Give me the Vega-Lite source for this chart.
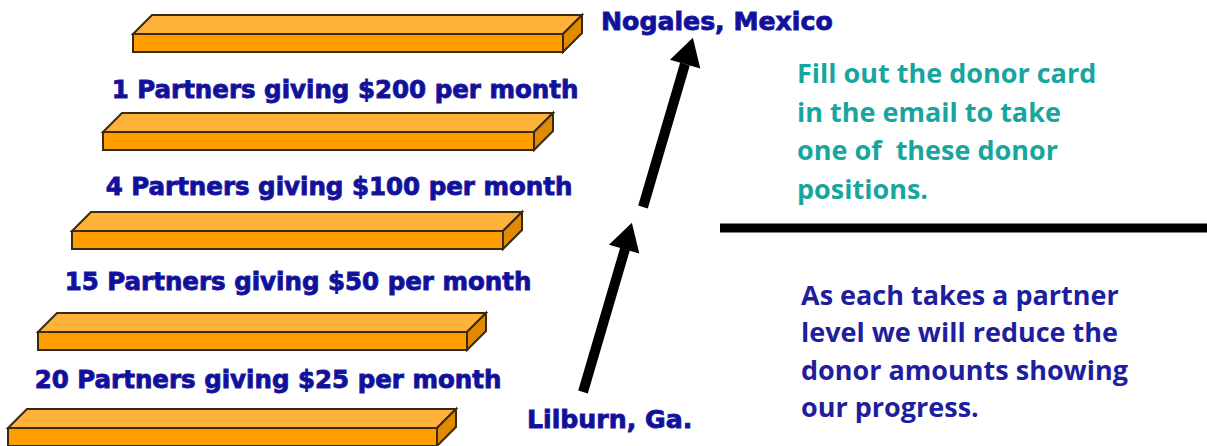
{
  "$schema": "https://vega.github.io/schema/vega-lite/v6.json",
  "width": 1207,
  "height": 446,
  "padding": 0,
  "autosize": "none",
  "background": "white",
  "config": {"view": {"stroke": null}},
  "datasets": {
    "tops": [
      {"bar": 1, "y": 34, "xl": 133, "xr": 563}, {"bar": 1, "y": 15, "xl": 152, "xr": 582},
      {"bar": 2, "y": 132, "xl": 103, "xr": 534}, {"bar": 2, "y": 113, "xl": 122, "xr": 553},
      {"bar": 3, "y": 231, "xl": 72, "xr": 503}, {"bar": 3, "y": 212, "xl": 91, "xr": 522},
      {"bar": 4, "y": 332, "xl": 38, "xr": 467}, {"bar": 4, "y": 313, "xl": 57, "xr": 486},
      {"bar": 5, "y": 428, "xl": 8, "xr": 437}, {"bar": 5, "y": 409, "xl": 27, "xr": 456}
    ],
    "sides": [
      {"bar": 1, "x": 563, "yt": 34, "yb": 52}, {"bar": 1, "x": 582, "yt": 15, "yb": 33},
      {"bar": 2, "x": 534, "yt": 132, "yb": 150}, {"bar": 2, "x": 553, "yt": 113, "yb": 131},
      {"bar": 3, "x": 503, "yt": 231, "yb": 249}, {"bar": 3, "x": 522, "yt": 212, "yb": 230},
      {"bar": 4, "x": 467, "yt": 332, "yb": 350}, {"bar": 4, "x": 486, "yt": 313, "yb": 331},
      {"bar": 5, "x": 437, "yt": 428, "yb": 446}, {"bar": 5, "x": 456, "yt": 409, "yb": 427}
    ],
    "fronts": [
      {"bar": 1, "x0": 133, "x1": 563, "yt": 34, "yb": 52},
      {"bar": 2, "x0": 103, "x1": 534, "yt": 132, "yb": 150},
      {"bar": 3, "x0": 72, "x1": 503, "yt": 231, "yb": 249},
      {"bar": 4, "x0": 38, "x1": 467, "yt": 332, "yb": 350},
      {"bar": 5, "x0": 8, "x1": 437, "yt": 428, "yb": 446}
    ],
    "labels": [
      {"t": "1 Partners giving $200 per month", "x": 345, "y": 98},
      {"t": "4 Partners giving $100 per month", "x": 339, "y": 195},
      {"t": "15 Partners giving $50 per month", "x": 298, "y": 290},
      {"t": "20 Partners giving $25 per month", "x": 268, "y": 388}
    ],
    "cities": [
      {"t": "Nogales, Mexico", "x": 601, "y": 30},
      {"t": "Lilburn, Ga.", "x": 527, "y": 428}
    ],
    "teal": [
      {"t": "Fill out the donor card", "x": 797, "y": 83},
      {"t": "in the email to take", "x": 797, "y": 122},
      {"t": "one of\u00a0 these donor", "x": 797, "y": 160},
      {"t": "positions.", "x": 797, "y": 199}
    ],
    "blue": [
      {"t": "As each takes a partner", "x": 801, "y": 305},
      {"t": "level we will reduce the", "x": 801, "y": 342},
      {"t": "donor amounts showing", "x": 801, "y": 380},
      {"t": "our progress.", "x": 801, "y": 417}
    ],
    "shafts": [
      {"arrow": "upper", "x": 643, "y": 207, "x2": 685, "y2": 64},
      {"arrow": "lower", "x": 583, "y": 392, "x2": 625, "y2": 249}
    ],
    "heads": [
      {"arrow": "upper", "x": 689, "y": 51},
      {"arrow": "lower", "x": 628, "y": 236}
    ],
    "divider": [
      {"x": 720, "x2": 1207, "y": 228}
    ]
  },
  "layer": [
    {
      "data": {"name": "tops"},
      "mark": {"type": "area", "orient": "horizontal", "color": "#FFB23A", "stroke": "#3b2a12", "strokeWidth": 2, "strokeJoin": "miter", "opacity": 1},
      "encoding": {
        "y": {"field": "y", "type": "quantitative", "scale": {"domain": [0, 446], "reverse": true, "nice": false, "zero": false}, "axis": null},
        "x": {"field": "xl", "type": "quantitative", "scale": {"domain": [0, 1207], "nice": false, "zero": false}, "axis": null, "stack": null},
        "x2": {"field": "xr"},
        "detail": {"field": "bar", "type": "nominal"}
      }
    },
    {
      "data": {"name": "sides"},
      "mark": {"type": "area", "orient": "vertical", "color": "#E08A00", "stroke": "#3b2a12", "strokeWidth": 2, "strokeJoin": "miter", "opacity": 1},
      "encoding": {
        "x": {"field": "x", "type": "quantitative", "scale": {"domain": [0, 1207], "nice": false, "zero": false}, "axis": null},
        "y": {"field": "yt", "type": "quantitative", "scale": {"domain": [0, 446], "reverse": true, "nice": false, "zero": false}, "axis": null, "stack": null},
        "y2": {"field": "yb"},
        "detail": {"field": "bar", "type": "nominal"}
      }
    },
    {
      "data": {"name": "fronts"},
      "mark": {"type": "rect", "color": "#FF9C00", "stroke": "#3b2a12", "strokeWidth": 2},
      "encoding": {
        "x": {"field": "x0", "type": "quantitative", "scale": {"domain": [0, 1207], "nice": false, "zero": false}, "axis": null},
        "x2": {"field": "x1"},
        "y": {"field": "yt", "type": "quantitative", "scale": {"domain": [0, 446], "reverse": true, "nice": false, "zero": false}, "axis": null},
        "y2": {"field": "yb"}
      }
    },
    {
      "data": {"name": "labels"},
      "mark": {"type": "text", "font": "DejaVu Sans", "fontWeight": "bold", "fontSize": 24.5, "color": "#10109a", "stroke": "#1a1aa0", "strokeWidth": 0.9, "align": "center", "baseline": "alphabetic"},
      "encoding": {
        "x": {"field": "x", "type": "quantitative", "scale": {"domain": [0, 1207], "nice": false, "zero": false}, "axis": null},
        "y": {"field": "y", "type": "quantitative", "scale": {"domain": [0, 446], "reverse": true, "nice": false, "zero": false}, "axis": null},
        "text": {"field": "t", "type": "nominal"}
      }
    },
    {
      "data": {"name": "cities"},
      "mark": {"type": "text", "font": "DejaVu Sans", "fontWeight": "bold", "fontSize": 25.2, "color": "#10109a", "stroke": "#1a1aa0", "strokeWidth": 0.9, "align": "left", "baseline": "alphabetic"},
      "encoding": {
        "x": {"field": "x", "type": "quantitative", "scale": {"domain": [0, 1207], "nice": false, "zero": false}, "axis": null},
        "y": {"field": "y", "type": "quantitative", "scale": {"domain": [0, 446], "reverse": true, "nice": false, "zero": false}, "axis": null},
        "text": {"field": "t", "type": "nominal"}
      }
    },
    {
      "data": {"name": "teal"},
      "mark": {"type": "text", "font": "Open Sans", "fontWeight": "bold", "fontSize": 27, "color": "#17a59e", "align": "left", "baseline": "alphabetic"},
      "encoding": {
        "x": {"field": "x", "type": "quantitative", "scale": {"domain": [0, 1207], "nice": false, "zero": false}, "axis": null},
        "y": {"field": "y", "type": "quantitative", "scale": {"domain": [0, 446], "reverse": true, "nice": false, "zero": false}, "axis": null},
        "text": {"field": "t", "type": "nominal"}
      }
    },
    {
      "data": {"name": "blue"},
      "mark": {"type": "text", "font": "Open Sans", "fontWeight": "bold", "fontSize": 27, "color": "#1e1e9e", "align": "left", "baseline": "alphabetic"},
      "encoding": {
        "x": {"field": "x", "type": "quantitative", "scale": {"domain": [0, 1207], "nice": false, "zero": false}, "axis": null},
        "y": {"field": "y", "type": "quantitative", "scale": {"domain": [0, 446], "reverse": true, "nice": false, "zero": false}, "axis": null},
        "text": {"field": "t", "type": "nominal"}
      }
    },
    {
      "data": {"name": "shafts"},
      "mark": {"type": "rule", "color": "black", "strokeWidth": 10, "strokeCap": "butt"},
      "encoding": {
        "x": {"field": "x", "type": "quantitative", "scale": {"domain": [0, 1207], "nice": false, "zero": false}, "axis": null},
        "x2": {"field": "x2"},
        "y": {"field": "y", "type": "quantitative", "scale": {"domain": [0, 446], "reverse": true, "nice": false, "zero": false}, "axis": null},
        "y2": {"field": "y2"}
      }
    },
    {
      "data": {"name": "heads"},
      "mark": {"type": "point", "shape": "triangle-up", "filled": true, "color": "black", "opacity": 1, "size": 1000, "angle": 16.4},
      "encoding": {
        "x": {"field": "x", "type": "quantitative", "scale": {"domain": [0, 1207], "nice": false, "zero": false}, "axis": null},
        "y": {"field": "y", "type": "quantitative", "scale": {"domain": [0, 446], "reverse": true, "nice": false, "zero": false}, "axis": null}
      }
    },
    {
      "data": {"name": "divider"},
      "mark": {"type": "rule", "color": "black", "strokeWidth": 9, "strokeCap": "butt"},
      "encoding": {
        "x": {"field": "x", "type": "quantitative", "scale": {"domain": [0, 1207], "nice": false, "zero": false}, "axis": null},
        "x2": {"field": "x2"},
        "y": {"field": "y", "type": "quantitative", "scale": {"domain": [0, 446], "reverse": true, "nice": false, "zero": false}, "axis": null}
      }
    }
  ]
}
